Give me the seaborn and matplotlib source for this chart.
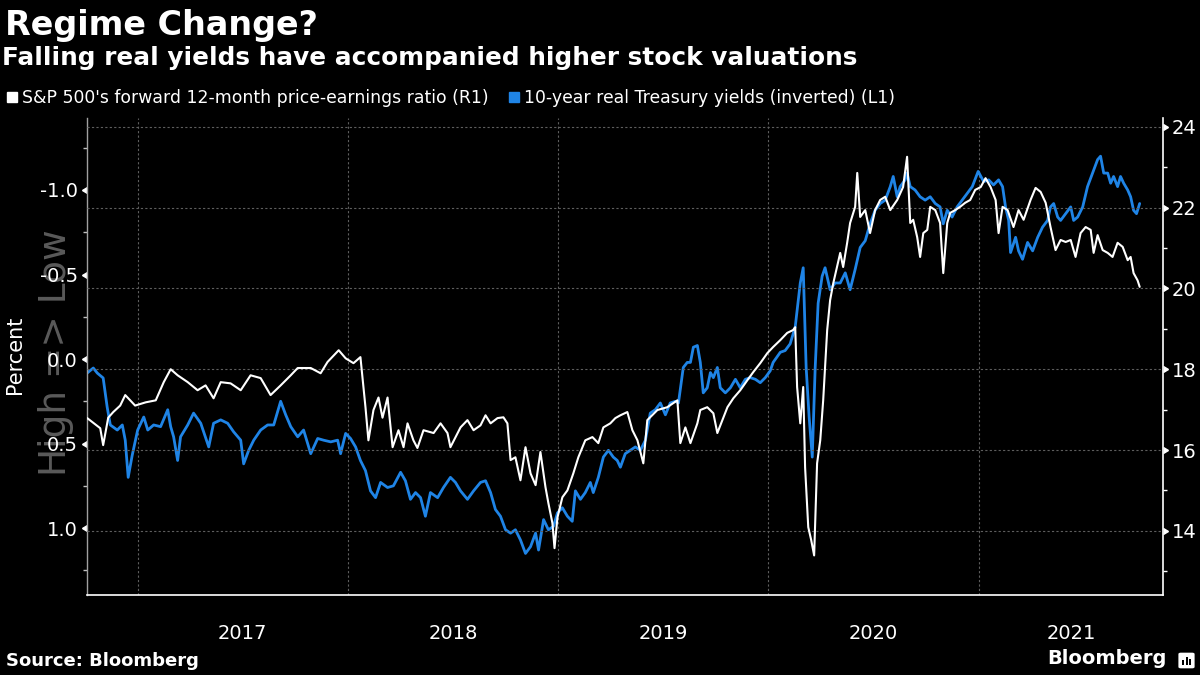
import numpy as np
import pandas as pd
import matplotlib
matplotlib.use("Agg")
import matplotlib.pyplot as plt
import matplotlib.dates as mdates
import matplotlib.markers as mmarkers
from matplotlib.lines import Line2D
from matplotlib.patches import FancyBboxPatch, Rectangle
import matplotlib.transforms as mtransforms
import seaborn as sns

# ---------------- data ----------------
title = "Regime Change?"
subtitle = "Falling real yields have accompanied higher stock valuations"
pe_label = "S&P 500's forward 12-month price-earnings ratio (R1)"
ry_label = "10-year real Treasury yields (inverted) (L1)"

# S&P 500 forward P/E (right axis), decimal-year timestamps
pe_t = [2016.762, 2016.824, 2016.838, 2016.862, 2016.886, 2016.919, 2016.943, 2016.990,
        2017.038, 2017.086, 2017.124, 2017.157, 2017.190, 2017.238, 2017.285, 2017.323,
        2017.361, 2017.395, 2017.442, 2017.490, 2017.537, 2017.585, 2017.632, 2017.680,
        2017.728, 2017.761, 2017.823, 2017.870, 2017.903, 2017.956, 2017.989, 2018.027,
        2018.060, 2018.084, 2018.098, 2018.122, 2018.146, 2018.165, 2018.189, 2018.213,
        2018.241, 2018.265, 2018.284, 2018.312, 2018.331, 2018.360, 2018.408, 2018.441,
        2018.474, 2018.488, 2018.536, 2018.569, 2018.598, 2018.631, 2018.655, 2018.679,
        2018.712, 2018.740, 2018.759, 2018.774, 2018.797, 2018.821, 2018.845, 2018.869,
        2018.893, 2018.916, 2018.940, 2018.954, 2018.973, 2018.983, 2018.997, 2019.021,
        2019.045, 2019.073, 2019.097, 2019.130, 2019.164, 2019.192, 2019.216, 2019.249,
        2019.273, 2019.297, 2019.330, 2019.354, 2019.378, 2019.406, 2019.425, 2019.473,
        2019.520, 2019.568, 2019.582, 2019.606, 2019.630, 2019.663, 2019.677, 2019.710,
        2019.739, 2019.758, 2019.782, 2019.806, 2019.834, 2019.867, 2019.901, 2019.929,
        2019.962, 2019.996, 2020.024, 2020.058, 2020.091, 2020.119, 2020.129, 2020.138,
        2020.153, 2020.167, 2020.176, 2020.191, 2020.205, 2020.219, 2020.233, 2020.248,
        2020.262, 2020.281, 2020.295, 2020.310, 2020.343, 2020.357, 2020.376, 2020.390,
        2020.414, 2020.424, 2020.438, 2020.462, 2020.485, 2020.509, 2020.533, 2020.557,
        2020.581, 2020.614, 2020.642, 2020.661, 2020.676, 2020.690, 2020.709, 2020.723,
        2020.738, 2020.757, 2020.771, 2020.795, 2020.818, 2020.833, 2020.852, 2020.866,
        2020.890, 2020.913, 2020.937, 2020.961, 2020.985, 2021.009, 2021.032, 2021.056,
        2021.080, 2021.094, 2021.113, 2021.137, 2021.165, 2021.189, 2021.213, 2021.246,
        2021.270, 2021.294, 2021.318, 2021.341, 2021.365, 2021.389, 2021.413, 2021.437,
        2021.460, 2021.484, 2021.508, 2021.532, 2021.546, 2021.565, 2021.589, 2021.613,
        2021.636, 2021.660, 2021.684, 2021.708, 2021.722, 2021.736, 2021.755, 2021.765]
pe_v = [16.79, 16.54, 16.12, 16.80, 16.94, 17.10, 17.36, 17.10,
        17.18, 17.23, 17.68, 18.00, 17.85, 17.68, 17.48, 17.60,
        17.28, 17.68, 17.65, 17.48, 17.85, 17.78, 17.36, 17.60,
        17.85, 18.03, 18.03, 17.90, 18.18, 18.47, 18.27, 18.15,
        18.30, 17.06, 16.24, 16.99, 17.30, 16.80, 17.30, 16.07,
        16.49, 16.07, 16.66, 16.24, 16.05, 16.49, 16.42, 16.66,
        16.42, 16.07, 16.56, 16.74, 16.49, 16.61, 16.86, 16.66,
        16.79, 16.81, 16.66, 15.75, 15.82, 15.25, 16.07, 15.42,
        15.13, 15.95, 15.08, 14.68, 14.19, 13.57, 14.33, 14.83,
        15.00, 15.42, 15.82, 16.24, 16.32, 16.17, 16.56, 16.66,
        16.79, 16.86, 16.94, 16.49, 16.24, 15.67, 16.74, 16.99,
        17.06, 17.23, 16.17, 16.56, 16.17, 16.66, 16.99, 17.06,
        16.91, 16.42, 16.74, 17.06, 17.28, 17.48, 17.73, 17.93,
        18.15, 18.40, 18.55, 18.72, 18.90, 18.97, 19.04, 17.56,
        16.66, 17.56, 15.57, 14.09, 13.77, 13.39, 15.67, 16.24,
        17.23, 18.97, 19.71, 20.13, 20.88, 20.53, 21.13, 21.62,
        22.02, 22.86, 21.77, 21.94, 21.37, 21.94, 22.19, 22.27,
        21.94, 22.19, 22.51, 23.26, 21.62, 21.70, 21.27, 20.78,
        21.37, 21.45, 22.02, 21.94, 21.62, 20.38, 21.62, 21.87,
        21.94, 22.02, 22.12, 22.19, 22.44, 22.51, 22.73, 22.51,
        22.19, 21.37, 22.02, 21.94, 21.52, 21.94, 21.70, 22.19,
        22.49, 22.39, 22.12, 21.52, 20.95, 21.20, 21.15, 21.20,
        20.78, 21.37, 21.52, 21.45, 20.88, 21.32, 20.95, 20.88,
        20.78, 21.13, 21.03, 20.70, 20.78, 20.38, 20.20, 20.04]

# 10-year real Treasury yield, % (left axis, inverted)
ry_t = [2016.762, 2016.791, 2016.810, 2016.838, 2016.857, 2016.872, 2016.905, 2016.929,
        2016.943, 2016.957, 2016.976, 2017.000, 2017.029, 2017.048, 2017.076, 2017.109,
        2017.143, 2017.157, 2017.171, 2017.190, 2017.204, 2017.238, 2017.266, 2017.300,
        2017.338, 2017.361, 2017.395, 2017.428, 2017.456, 2017.490, 2017.504, 2017.528,
        2017.552, 2017.585, 2017.618, 2017.647, 2017.680, 2017.704, 2017.728, 2017.761,
        2017.789, 2017.823, 2017.856, 2017.884, 2017.918, 2017.951, 2017.965, 2017.989,
        2018.013, 2018.037, 2018.060, 2018.084, 2018.108, 2018.132, 2018.156, 2018.189,
        2018.217, 2018.251, 2018.274, 2018.298, 2018.322, 2018.346, 2018.369, 2018.393,
        2018.427, 2018.455, 2018.488, 2018.512, 2018.536, 2018.569, 2018.598, 2018.631,
        2018.655, 2018.679, 2018.702, 2018.726, 2018.750, 2018.774, 2018.797, 2018.821,
        2018.845, 2018.869, 2018.893, 2018.907, 2018.931, 2018.954, 2018.978, 2018.997,
        2019.021, 2019.045, 2019.068, 2019.083, 2019.107, 2019.130, 2019.154, 2019.168,
        2019.192, 2019.216, 2019.240, 2019.263, 2019.282, 2019.297, 2019.320, 2019.344,
        2019.368, 2019.392, 2019.416, 2019.439, 2019.463, 2019.487, 2019.511, 2019.534,
        2019.558, 2019.573, 2019.596, 2019.615, 2019.630, 2019.644, 2019.663, 2019.677,
        2019.691, 2019.710, 2019.725, 2019.739, 2019.758, 2019.772, 2019.796, 2019.820,
        2019.844, 2019.867, 2019.891, 2019.915, 2019.939, 2019.962, 2019.986, 2020.010,
        2020.024, 2020.058, 2020.081, 2020.105, 2020.129, 2020.153, 2020.167, 2020.181,
        2020.195, 2020.210, 2020.224, 2020.238, 2020.257, 2020.271, 2020.295, 2020.319,
        2020.343, 2020.367, 2020.390, 2020.414, 2020.438, 2020.462, 2020.485, 2020.509,
        2020.533, 2020.557, 2020.581, 2020.595, 2020.614, 2020.628, 2020.652, 2020.661,
        2020.676, 2020.699, 2020.723, 2020.747, 2020.771, 2020.795, 2020.818, 2020.833,
        2020.852, 2020.875, 2020.899, 2020.923, 2020.947, 2020.971, 2020.999, 2021.023,
        2021.047, 2021.070, 2021.094, 2021.113, 2021.127, 2021.142, 2021.151, 2021.175,
        2021.189, 2021.208, 2021.232, 2021.256, 2021.280, 2021.303, 2021.327, 2021.341,
        2021.356, 2021.375, 2021.389, 2021.413, 2021.437, 2021.451, 2021.470, 2021.494,
        2021.517, 2021.541, 2021.565, 2021.579, 2021.594, 2021.613, 2021.627, 2021.641,
        2021.660, 2021.674, 2021.689, 2021.708, 2021.722, 2021.736, 2021.750, 2021.765]
ry_v = [0.083, 0.053, 0.083, 0.112, 0.284, 0.39, 0.42, 0.39,
        0.48, 0.70, 0.57, 0.42, 0.343, 0.42, 0.39, 0.40,
        0.30, 0.40, 0.46, 0.60, 0.46, 0.39, 0.32, 0.38,
        0.52, 0.38, 0.36, 0.38, 0.43, 0.48, 0.62, 0.54,
        0.48, 0.42, 0.39, 0.39, 0.25, 0.33, 0.40, 0.46,
        0.42, 0.56, 0.47, 0.48, 0.49, 0.48, 0.56, 0.44,
        0.47, 0.52, 0.60, 0.66, 0.78, 0.82, 0.73, 0.76,
        0.75, 0.67, 0.72, 0.83, 0.79, 0.82, 0.93, 0.79,
        0.82, 0.76, 0.70, 0.73, 0.78, 0.83, 0.78, 0.73,
        0.72, 0.79, 0.89, 0.93, 1.01, 1.03, 1.01, 1.07,
        1.15, 1.11, 1.03, 1.13, 0.95, 1.01, 0.99, 0.91,
        0.88, 0.93, 0.96, 0.78, 0.83, 0.79, 0.73, 0.79,
        0.70, 0.58, 0.54, 0.58, 0.60, 0.64, 0.56, 0.54,
        0.52, 0.54, 0.48, 0.32, 0.30, 0.26, 0.33, 0.26,
        0.25, 0.26, 0.05, 0.02, 0.02, -0.07, -0.08, 0.02,
        0.20, 0.17, 0.08, 0.11, 0.05, 0.17, 0.20, 0.17,
        0.12, 0.17, 0.12, 0.11, 0.12, 0.14, 0.11, 0.07,
        0.02, -0.04, -0.05, -0.09, -0.19, -0.45, -0.54, 0.05,
        0.34, 0.58, 0.05, -0.33, -0.49, -0.54, -0.41, -0.45,
        -0.45, -0.51, -0.41, -0.53, -0.66, -0.70, -0.80, -0.88,
        -0.92, -0.94, -1.02, -1.08, -0.96, -1.02, -1.06, -1.10,
        -1.02, -1.00, -0.96, -0.94, -0.96, -0.92, -0.90, -0.80,
        -0.88, -0.84, -0.90, -0.94, -0.98, -1.02, -1.11, -1.05,
        -1.06, -1.03, -1.06, -1.02, -0.90, -0.82, -0.63, -0.72,
        -0.64, -0.59, -0.69, -0.64, -0.72, -0.78, -0.82, -0.90,
        -0.92, -0.84, -0.82, -0.86, -0.90, -0.82, -0.84, -0.90,
        -1.02, -1.10, -1.18, -1.20, -1.10, -1.10, -1.04, -1.08,
        -1.02, -1.08, -1.04, -1.00, -0.96, -0.88, -0.86, -0.92]

left_ticks = [-1.0, -0.5, 0.0, 0.5, 1.0]
right_ticks = [14, 16, 18, 20, 22, 24]
year_labels = [2017, 2018, 2019, 2020, 2021]
x_start, x_end = "2016-10-05", "2021-11-17"


def to_dt(ts):
    out = []
    for t in ts:
        y = int(np.floor(t))
        out.append(pd.Timestamp(f"{y}-01-01") + pd.Timedelta(days=(t - y) * 365.25))
    return out


pe_df = pd.DataFrame({"date": to_dt(pe_t), "pe": pe_v})
ry_df = pd.DataFrame({"date": to_dt(ry_t), "ry": ry_v})

# ---------------- style ----------------
sns.set_theme(style="dark")
plt.rcParams["font.family"] = ["DejaVu Sans"]
plt.rcParams["axes.unicode_minus"] = False

BG = "black"
BLUE = "#1f84e6"
GRID = "#5e5e5e"

fig = plt.figure(figsize=(12, 6.75), dpi=100, facecolor=BG)

# large grey side label drawn first so it sits behind the tick labels, as in the reference
fig.text(56 / 1200, 1 - 353 / 675, "High => Low", rotation=90, fontsize=27, color="#5a5a5a",
         ha="center", va="center", zorder=-5)

ax = fig.add_axes([0.0725, 0.1185, 0.8967, 0.7067])
ax.set_facecolor(BG)
ax2 = ax.twinx()
ax2.patch.set_visible(False)

sns.lineplot(data=ry_df, x="date", y="ry", ax=ax, color=BLUE, linewidth=2.0,
             estimator=None, sort=False)
sns.lineplot(data=pe_df, x="date", y="pe", ax=ax2, color="white", linewidth=1.5,
             estimator=None, sort=False)

ax.set_xlim(pd.Timestamp(x_start), pd.Timestamp(x_end))
ax.set_ylim(1.396, -1.426)
ax2.set_ylim(12.41, 24.22)
ax.set_xlabel("")
ax.set_ylabel("")
ax2.set_ylabel("")

# spines
for s in ["top", "right"]:
    ax.spines[s].set_visible(False)
ax.spines["left"].set_color("#a0a0a0")
ax.spines["left"].set_linewidth(1.0)
ax.spines["bottom"].set_color("white")
ax.spines["bottom"].set_linewidth(1.2)
for s in ["top", "left", "bottom"]:
    ax2.spines[s].set_visible(False)
ax2.spines["right"].set_color("white")
ax2.spines["right"].set_linewidth(1.2)

# x axis
ax.xaxis.set_major_locator(mdates.YearLocator())
ax.xaxis.set_minor_locator(mdates.MonthLocator(bymonth=[4, 7, 10]))
ax.xaxis.set_major_formatter(plt.NullFormatter())
ax.xaxis.set_minor_formatter(plt.NullFormatter())
ax.tick_params(axis="x", which="major", length=37, width=1.0, color="#8a8a8a", direction="out")
ax.tick_params(axis="x", which="minor", length=3.6, width=1.0, color="white", direction="out")

# left y axis
ax.yaxis.set_major_locator(matplotlib.ticker.FixedLocator(left_ticks))
ax.yaxis.set_minor_locator(matplotlib.ticker.MultipleLocator(0.25))
ax.yaxis.set_major_formatter(matplotlib.ticker.FuncFormatter(lambda v, p: f"{v:.1f}"))
ax.tick_params(axis="y", which="major", length=4.5, width=1, color="white",
               labelcolor="white", labelsize=14, pad=2, direction="out")
ax.tick_params(axis="y", which="minor", length=3, width=1, color="#c0c0c0", direction="out")

# right y axis
ax2.yaxis.set_major_locator(matplotlib.ticker.FixedLocator(right_ticks))
ax2.yaxis.set_minor_locator(matplotlib.ticker.MultipleLocator(1))
ax2.tick_params(axis="y", which="major", length=4.5, width=1, color="white",
                labelcolor="white", labelsize=14, pad=2, direction="out")
ax2.tick_params(axis="y", which="minor", length=3, width=1, color="white", direction="out")

# caret tick marks like the reference
fig.canvas.draw()
for t in ax.yaxis.get_major_ticks():
    t.tick1line.set_marker(mmarkers.CARETLEFTBASE)
    t.tick1line.set_markersize(4.5)
for t in ax2.yaxis.get_major_ticks():
    t.tick2line.set_marker(mmarkers.CARETRIGHTBASE)
    t.tick2line.set_markersize(4.5)

# grids
ax.grid(False)
ax2.grid(False)
ax.xaxis.grid(True, which="major", color=GRID, linestyle=(0, (2, 2)), linewidth=0.8)
ax2.yaxis.grid(True, which="major", color=GRID, linestyle=(0, (2, 2)), linewidth=0.8)
ax.set_axisbelow(True)
ax2.set_axisbelow(True)

# year labels centred in each visible year span
trans = mtransforms.blended_transform_factory(ax.transData, ax.transAxes)
xmax = pd.Timestamp(x_end)
for yr in year_labels:
    a = pd.Timestamp(f"{yr}-01-01")
    b = min(pd.Timestamp(f"{yr + 1}-01-01"), xmax)
    mid = a + (b - a) / 2
    ax.text(mdates.date2num(mid), -0.08, str(yr), transform=trans, ha="center",
            va="center", fontsize=14, color="white")

# titles
fig.text(0.004, 1 - 9 / 675, title, fontsize=24, fontweight="bold", color="white", va="top")
fig.text(0.002, 1 - 46 / 675, subtitle, fontsize=17.8, fontweight="bold", color="white", va="top")

# legend
handles = [Line2D([], [], marker="s", ls="", color="white", markersize=7.5),
           Line2D([], [], marker="s", ls="", color=BLUE, markersize=7.5)]
leg = fig.legend(handles, [pe_label, ry_label], loc="upper left",
                 bbox_to_anchor=(0.006, 1 - 89 / 675), ncol=2, frameon=False,
                 fontsize=12.4, labelcolor="white", handlelength=0.6,
                 handletextpad=0.25, columnspacing=1.2, borderpad=0, borderaxespad=0)

fig.text(15 / 1200, 1 - 355 / 675, "Percent", rotation=90, fontsize=15, color="white",
         ha="center", va="center")

# footer
fig.text(0.005, 1 - 652 / 675, "Source: Bloomberg", fontsize=13, fontweight="bold",
         color="white", va="top")
fig.text(1047 / 1200, 1 - 649 / 675, "Bloomberg", fontsize=14, fontweight="bold",
         color="white", va="top")
icon = FancyBboxPatch((1179 / 1200, 1 - 668 / 675), 15 / 1200, 15 / 675,
                      boxstyle="round,pad=0.0005,rounding_size=0.002",
                      transform=fig.transFigure, facecolor="white", edgecolor="none")
fig.patches.append(icon)
for i, h in enumerate([5, 8, 6]):
    fig.patches.append(Rectangle(((1182 + 3.5 * i) / 1200, 1 - 665 / 675), 2 / 1200, h / 675,
                                 transform=fig.transFigure, facecolor="black", edgecolor="none"))

fig.savefig("out.png", dpi=100, facecolor=BG)
